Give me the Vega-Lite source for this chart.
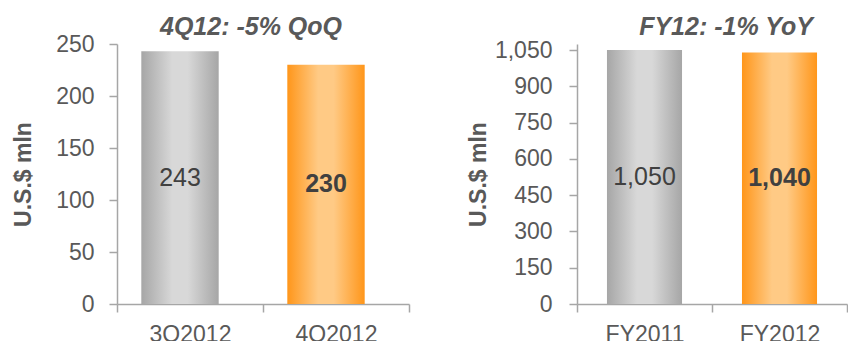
{
  "$schema": "https://vega.github.io/schema/vega-lite/v6.json",
  "background": "white",
  "padding": {"left": 12, "top": 15, "right": 0, "bottom": 0},
  "spacing": 57,
  "config": {
    "view": {"stroke": null},
    "font": "Liberation Sans",
    "axis": {
      "domainColor": "#a6a6a6", "tickColor": "#a6a6a6", "domainWidth": 1.5, "tickWidth": 1.5, "tickSize": 8,
      "labelFont": "Liberation Sans", "labelColor": "#595959", "labelFontSize": 23,
      "titleFont": "Liberation Sans", "titleColor": "#595959", "titleFontSize": 23, "titleFontWeight": "bold",
      "grid": false
    },
    "title": {"font": "Liberation Sans", "fontSize": 25, "fontStyle": "italic", "fontWeight": "bold", "color": "#595959"}
  },
  "datasets": {
    "quarter": [
      {"period": "3Q2012", "value": 243, "current": false},
      {"period": "4Q2012", "value": 230, "current": true}
    ],
    "year": [
      {"period": "FY2011", "value": 1050, "current": false},
      {"period": "FY2012", "value": 1040, "current": true}
    ]
  },
  "hconcat": [
    {
      "data": {"name": "quarter"},
      "width": 292,
      "height": 260,
      "title": {"text": "4Q12: -5% QoQ", "dx": -12, "dy": 3, "offset": -4},
      "encoding": {
        "x": {"field": "period", "type": "nominal", "sort": null,
          "scale": {"paddingInner": 0, "paddingOuter": 0},
          "axis": {"title": null, "labelAngle": 0, "tickBand": "extent", "labelPadding": 11}}
      },
      "layer": [
        {
          "mark": {"type": "bar", "width": {"band": 0.53}, "xOffset": -10},
          "encoding": {
            "y": {"field": "value", "type": "quantitative", "scale": {"domain": [0, 250], "nice": false},
              "axis": {"values": [0, 50, 100, 150, 200, 250], "format": "d", "title": "U.S.$ mln", "titlePadding": 20, "labelPadding": 15}},
            "fill": {
              "condition": {"test": "datum.current", "value": {"gradient": "linear", "x1": 0, "y1": 0, "x2": 1, "y2": 0,
                "stops": [{"offset": 0, "color": "#ff961a"}, {"offset": 0.4, "color": "#ffca85"}, {"offset": 0.6, "color": "#ffca85"}, {"offset": 1, "color": "#ff961a"}]}},
              "value": {"gradient": "linear", "x1": 0, "y1": 0, "x2": 1, "y2": 0,
                "stops": [{"offset": 0, "color": "#a6a6a6"}, {"offset": 0.4, "color": "#d8d8d8"}, {"offset": 0.6, "color": "#d8d8d8"}, {"offset": 1, "color": "#a6a6a6"}]}
            }
          }
        },
        {
          "transform": [{"filter": "!datum.current"}],
          "mark": {"type": "text", "xOffset": -10, "fontSize": 25, "color": "#404040"},
          "encoding": {
            "y": {"field": "value", "type": "quantitative", "scale": {"domain": [0, 500], "nice": false}, "axis": null},
            "text": {"field": "value", "type": "quantitative", "format": ",d"}
          }
        },
        {
          "transform": [{"filter": "datum.current"}],
          "mark": {"type": "text", "xOffset": -10, "fontSize": 25, "fontWeight": "bold", "color": "#404040"},
          "encoding": {
            "y": {"field": "value", "type": "quantitative", "scale": {"domain": [0, 500], "nice": false}, "axis": null},
            "text": {"field": "value", "type": "quantitative", "format": ",d"}
          }
        }
      ],
      "resolve": {"scale": {"y": "independent"}}
    },
    {
      "data": {"name": "year"},
      "width": 270,
      "height": 260,
      "title": {"text": "FY12: -1% YoY", "dx": 14, "dy": 1, "offset": 0},
      "encoding": {
        "x": {"field": "period", "type": "nominal", "sort": null,
          "scale": {"paddingInner": 0, "paddingOuter": 0},
          "axis": {"title": null, "labelAngle": 0, "tickBand": "extent", "labelPadding": 11}}
      },
      "layer": [
        {
          "mark": {"type": "bar", "width": {"band": 0.556}},
          "encoding": {
            "y": {"field": "value", "type": "quantitative", "scale": {"domain": [0, 1075], "nice": false},
              "axis": {"values": [0, 150, 300, 450, 600, 750, 900, 1050], "format": ",d", "title": "U.S.$ mln", "titlePadding": 4, "labelPadding": 17}},
            "fill": {
              "condition": {"test": "datum.current", "value": {"gradient": "linear", "x1": 0, "y1": 0, "x2": 1, "y2": 0,
                "stops": [{"offset": 0, "color": "#ff961a"}, {"offset": 0.4, "color": "#ffca85"}, {"offset": 0.6, "color": "#ffca85"}, {"offset": 1, "color": "#ff961a"}]}},
              "value": {"gradient": "linear", "x1": 0, "y1": 0, "x2": 1, "y2": 0,
                "stops": [{"offset": 0, "color": "#a6a6a6"}, {"offset": 0.4, "color": "#d8d8d8"}, {"offset": 0.6, "color": "#d8d8d8"}, {"offset": 1, "color": "#a6a6a6"}]}
            }
          }
        },
        {
          "transform": [{"filter": "!datum.current"}],
          "mark": {"type": "text", "fontSize": 25, "color": "#404040"},
          "encoding": {
            "y": {"field": "value", "type": "quantitative", "scale": {"domain": [0, 2150], "nice": false}, "axis": null},
            "text": {"field": "value", "type": "quantitative", "format": ",d"}
          }
        },
        {
          "transform": [{"filter": "datum.current"}],
          "mark": {"type": "text", "fontSize": 25, "fontWeight": "bold", "color": "#404040"},
          "encoding": {
            "y": {"field": "value", "type": "quantitative", "scale": {"domain": [0, 2150], "nice": false}, "axis": null},
            "text": {"field": "value", "type": "quantitative", "format": ",d"}
          }
        }
      ],
      "resolve": {"scale": {"y": "independent"}}
    }
  ]
}
